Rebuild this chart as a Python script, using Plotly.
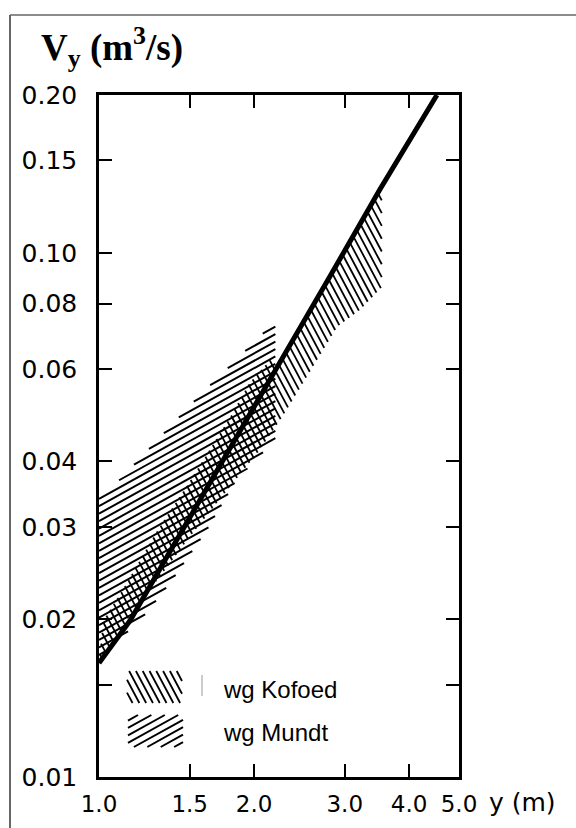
import numpy as np
import plotly.graph_objects as go

# ---------------- data ----------------
x_ticks = [1.0, 1.5, 2.0, 3.0, 4.0, 5.0]
x_ticktext = ["1.0", "1.5", "2.0", "3.0", "4.0", "5.0"]
y_ticks = [0.01, 0.015, 0.02, 0.03, 0.04, 0.06, 0.08, 0.10, 0.15, 0.20]
y_ticktext = ["0.01", "", "0.02", "0.03", "0.04", "0.06", "0.08", "0.10", "0.15", "0.20"]

# main relation line
line_y = [1.00, 1.15, 1.355, 1.57, 1.94, 2.20, 2.80, 3.51, 4.53]
line_v = [0.0165, 0.0199, 0.0263, 0.0338, 0.0487, 0.0597, 0.0897, 0.132, 0.200]

# band "wg Kofoed" (polygon, outline order)
kofoed_y = [1.00, 1.02, 1.11, 1.30, 1.50, 1.64, 1.80, 1.96, 2.15, 2.20, 2.80, 3.51, 3.54,
            3.54, 3.21, 2.90, 2.49, 2.27, 2.03, 1.82, 1.50, 1.30, 1.16, 1.00]
kofoed_v = [0.0165, 0.0199, 0.0227, 0.0296, 0.0366, 0.0421, 0.0487, 0.0565, 0.0625, 0.0597, 0.0897, 0.132, 0.132,
            0.086, 0.0778, 0.0723, 0.0565, 0.0487, 0.0415, 0.0364, 0.0287, 0.0238, 0.0206, 0.0165]

# band "wg Mundt" (polygon, outline order)
mundt_y = [1.00, 1.05, 1.57, 2.20, 2.20, 1.85, 1.62, 1.39, 1.24, 1.11, 1.00]
mundt_v = [0.034, 0.0353, 0.0535, 0.074, 0.044, 0.0369, 0.0296, 0.0238, 0.0206, 0.0185, 0.0167]

legend_names = ["wg Kofoed", "wg Mundt"]

# ---------------- layout geometry ----------------
W, H = 576, 828
L, R, T, B = 99, 459, 95, 777
XR = [0.0, np.log10(5.0)]
YR = [np.log10(0.01), np.log10(0.20)]


def to_px(x, y):
    px = L + (np.log10(x) - XR[0]) / (XR[1] - XR[0]) * (R - L)
    py = B - (np.log10(y) - YR[0]) / (YR[1] - YR[0]) * (B - T)
    return px, py


def from_px(px, py):
    x = 10 ** (XR[0] + (px - L) / (R - L) * (XR[1] - XR[0]))
    y = 10 ** (YR[0] + (B - py) / (B - T) * (YR[1] - YR[0]))
    return x, y


def hatch(poly_px, angle_deg, spacing):
    a = np.radians(angle_deg)
    d = np.array([np.cos(a), np.sin(a)])
    n = np.array([-np.sin(a), np.cos(a)])
    P = np.asarray(poly_px, float)
    proj = P @ n
    xs, ys = [], []
    c = np.floor(proj.min() / spacing) * spacing + spacing / 2
    while c <= proj.max():
        pts = []
        for i in range(len(P)):
            p1, p2 = P[i], P[(i + 1) % len(P)]
            s1, s2 = p1 @ n - c, p2 @ n - c
            if (s1 < 0) != (s2 < 0):
                t = s1 / (s1 - s2)
                pts.append(p1 + t * (p2 - p1))
        pts.sort(key=lambda p: p @ d)
        for j in range(0, len(pts) - 1, 2):
            for p in (pts[j], pts[j + 1]):
                x, y = from_px(p[0], p[1])
                xs.append(x)
                ys.append(y)
            xs.append(None)
            ys.append(None)
        c += spacing
    return xs, ys


K_ANGLE, K_SP = 62, 6.0
M_ANGLE, M_SP = -29, 6.5

fig = go.Figure()

kpx = [to_px(x, y) for x, y in zip(kofoed_y, kofoed_v)]
mpx = [to_px(x, y) for x, y in zip(mundt_y, mundt_v)]
kx, ky = hatch(kpx, K_ANGLE, K_SP)
mx, my = hatch(mpx, M_ANGLE, M_SP)

fig.add_trace(go.Scatter(x=mx, y=my, mode="lines", line=dict(color="black", width=2.0),
                         showlegend=False, hoverinfo="skip"))
fig.add_trace(go.Scatter(x=kx, y=ky, mode="lines", line=dict(color="black", width=1.8),
                         showlegend=False, hoverinfo="skip"))
fig.add_trace(go.Scatter(x=line_y, y=line_v, mode="lines", line=dict(color="black", width=5),
                         showlegend=False, hoverinfo="skip"))

# legend swatches (hand-drawn style legend inside the plot)
sw = [(127, 671, 182, 703), (128, 715, 183, 747)]
for (x0, y0, x1, y1), ang, spc, lw in zip(sw, [K_ANGLE, M_ANGLE], [K_SP, M_SP], [1.8, 2.0]):
    rect = [(x0, y0), (x1, y0), (x1, y1), (x0, y1)]
    hx, hy = hatch(rect, ang, spc)
    fig.add_trace(go.Scatter(x=hx, y=hy, mode="lines", line=dict(color="black", width=lw),
                             showlegend=False, hoverinfo="skip"))


def paper(px, py):
    return (px - L) / (R - L), (B - py) / (B - T)


annotations = []
for name, cy in zip(legend_names, [689, 732]):
    ax, ay = paper(221, cy)
    annotations.append(dict(x=ax, y=ay, xref="paper", yref="paper", text=name, showarrow=False,
                            xanchor="left", yanchor="middle",
                            font=dict(family="Liberation Sans", size=24, color="black")))
ax, ay = paper(39, 47)
annotations.append(dict(x=ax, y=ay, xref="paper", yref="paper",
                        text="<b>V<sub>y</sub> (m<sup>3</sup>/s)</b>", showarrow=False,
                        xanchor="left", yanchor="middle",
                        font=dict(family="Liberation Serif", size=37, color="black")))
ax, ay = paper(487, 802)
annotations.append(dict(x=ax, y=ay, xref="paper", yref="paper", text="y (m)", showarrow=False,
                        xanchor="left", yanchor="middle",
                        font=dict(family="DejaVu Sans", size=25, color="black")))

shapes = []
fx0, fy0 = paper(10, 15)
fx1, fy1 = paper(W, H)
shapes.append(dict(type="line", xref="paper", yref="paper", x0=fx0, y0=fy0, x1=fx0, y1=fy1,
                   line=dict(color="#666666", width=2)))
shapes.append(dict(type="line", xref="paper", yref="paper", x0=fx0, y0=fy0, x1=fx1, y1=fy0,
                   line=dict(color="#666666", width=1.5)))
sx, sy0 = paper(202, 675)
_, sy1 = paper(202, 696)
shapes.append(dict(type="line", xref="paper", yref="paper", x0=sx, y0=sy0, x1=sx, y1=sy1,
                   line=dict(color="#999999", width=1)))

axis_common = dict(type="log", showgrid=False, zeroline=False, showline=True, linecolor="black",
                   linewidth=2.5, ticks="inside", ticklen=13, tickwidth=2, tickcolor="black",
                   mirror="ticks")

fig.update_layout(
    width=W, height=H,
    margin=dict(l=L, r=W - R, t=T, b=H - B, pad=0),
    paper_bgcolor="white", plot_bgcolor="white",
    showlegend=False,
    xaxis=dict(range=XR, tickvals=x_ticks, ticktext=x_ticktext, ticklabelstandoff=5,
               tickfont=dict(family="DejaVu Sans", size=23, color="black"), **axis_common),
    yaxis=dict(range=YR, tickvals=y_ticks, ticktext=y_ticktext, ticklabelstandoff=14,
               tickfont=dict(family="DejaVu Sans", size=25, color="black"), **axis_common),
    annotations=annotations,
    shapes=shapes,
)

fig.write_html("out.html")
